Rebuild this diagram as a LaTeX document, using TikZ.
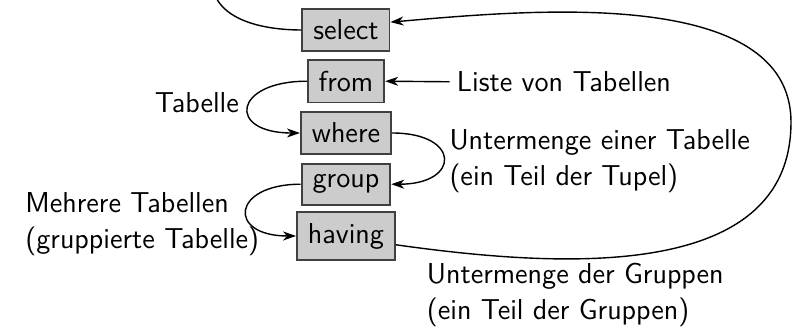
\documentclass[tikz,border=0pt]{standalone}
\usepackage{tikz}
\usetikzlibrary{arrows.meta}

\begin{document}
\begin{tikzpicture}[font=\sffamily\Large, line width=0.7pt,
    >={Stealth[length=6.5pt, width=4.5pt, inset=2pt]},
    kw/.style={rectangle, draw=darkgray, fill=gray!40, line width=0.9pt, inner sep=5.5pt},
    lbl/.style={align=left}]
      \useasboundingbox (-6.08, 0.527) rectangle (7.873, -5.237);

      \foreach \name/\y in {select/0, from/-0.9, where/-1.81, group/-2.71, having/-3.62} {
          \node[kw] (\name) at (0, \y) {\name};
      }

      \node[lbl] (tabelle) at (-2.62, -1.28) {Tabelle};
      \node[lbl] (liste) at (3.83, -0.91) {Liste von Tabellen};
      \node[lbl, anchor=west] (teiltupel) at (1.69, -2.31) {Untermenge einer Tabelle\\(ein Teil der Tupel)};
      \node[lbl] (mehrere) at (-3.58, -3.41) {Mehrere Tabellen\\(gruppierte Tabelle)};
      \node[lbl] (gruppen) at (4.03, -4.65) {Untermenge der Gruppen\\(ein Teil der Gruppen)};

      \coordinate (oben) at (-2.36, 0.9);
      \coordinate (rechts) at (7.82, -1.62);

      \draw (select.west) to[out=180, in=-90] (oben);
      \draw[->] (liste.west) -- (from.east);
      \draw[->] (from.west) to[out=180, in=180, looseness=3.6] (where.west);
      \draw[->] (where.east) to[out=0, in=0, looseness=3.45] (group.east);
      \draw[->] (group.west) to[out=180, in=180, looseness=3.4] (having.west);
      \draw[->] (having.-10) to[out=-8, in=-90] (rechts) to[out=90, in=5, looseness=0.85] (select.10);
\end{tikzpicture}
\end{document}
